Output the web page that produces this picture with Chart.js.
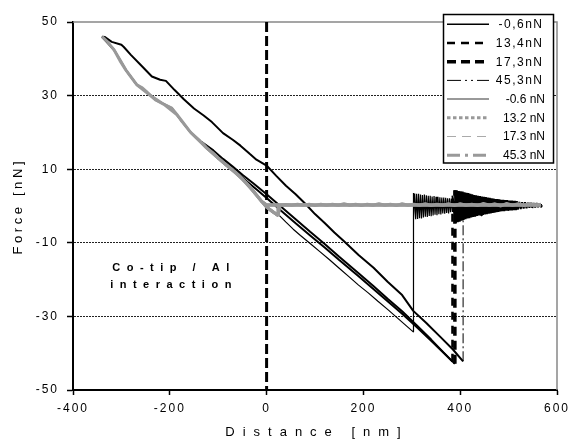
<!DOCTYPE html>
<html><head><meta charset="utf-8">
<script src="https://cdn.jsdelivr.net/npm/chart.js@4"></script>
<style>html,body{margin:0;padding:0;background:#fff}#wrap{width:572px;height:441px;position:relative}</style>
</head><body><div id="wrap"><canvas id="c" width="572" height="441"></canvas></div>
<script>
// ---------- texts / ticks ----------
const xTickValues = [-400, -200, 0, 200, 400, 600];
const yTickValues = [-50, -30, -10, 10, 30, 50];
const seriesNames = ['-0,6nN', '13,4nN', '17,3nN', '45,3nN', '-0.6 nN', '13.2 nN', '17.3 nN', '45.3 nN'];
const xTitle = 'Distance [nm]';
const yTitle = 'Force [nN]';
const noteLines = ['Co-tip / Al', 'interaction'];

// ---------- data: [distance nm, force nN] ----------
const blk06 = [[569,0.3],[450,0.3],[300,0.3],[150,0.3],[30,0.3],[25,-2.4],[40,-4.4],[55,-6.3],[70,-8.0],[90,-10.2],[110,-12.4],[130,-14.6],[150,-16.9],[170,-19.2],[190,-21.5],[210,-23.6],[230,-25.9],[250,-28.1],[270,-30.4],[290,-32.7],[303,-34.2],[303,3.5],
 [304,-3.8],[306,3.4],[308,-3.6],[310,3.3],[312,-3.5],[314,3.3],[316,-3.3],[318,3.1],[320,-3.4],[322,3.0],[324,-3.1],[326,3.1],[328,-2.9],[330,2.9],[332,-3.0],[334,2.8],[336,-2.7],[338,2.8],[340,-2.8],[342,2.6],[344,-2.6],[346,2.7],[348,-2.4],[350,2.5],[352,-2.5],[354,2.5],[356,-2.2],[358,2.4],[360,-2.3],[362,2.3],[364,-2.0],[366,2.3],[368,-2.1],[370,2.2],[372,-1.9],[374,2.1],[376,-2.0],[378,2.1],[380,-1.7],[382,2.0],[384,-1.6],[386,2.0],
 [389,-1.0],[392,1.2],[395,-0.9],[398,1.1],[401,-0.8],[404,1.0],[407,-0.8],[410,0.9],[414,-0.7],[418,0.9],[422,-0.6],[426,0.8],[430,-0.6],[434,0.8],[438,-0.5],[442,0.7],[446,-0.5],[450,0.7],[455,-0.4],[460,0.6],[465,-0.3],[470,0.6],[476,-0.2],[482,0.6],[490,-0.1],[500,0.5],[512,0.0],[525,0.5],[540,0.1],[555,0.5],[569,0.3]];

const blk134 = [[569,0.3],[300,0.3],[30,0.3],[0,0.3],[-10,1.2],[-21,3.0],[-35,5.3],[-52,7.6],[-65,9.2],[-82,11.0],[-100,13.4],
 [-80,11.1],[-60,8.9],[-40,6.6],[-20,4.4],[0,2.2],[30,-1.3],[60,-4.7],[90,-8.0],[120,-11.3],[150,-14.7],[190,-19.1],[220,-22.5],[250,-25.9],[280,-29.3],[310,-32.9],[340,-36.6],[365,-39.8],[384,-42.3],[384,2.8],
 [388,-2.5],[392,2.4],[397,-2.0],[402,1.8],[410,-1.4],[420,1.2],[432,-1.0],[446,0.9],[460,-0.6],[480,0.6],[500,0.2],[569,0.3]];

const blk173 = [[569,0.3],[300,0.3],[30,0.3],[0,0.3],[-10,1.2],[-21,3.0],[-35,5.3],[-52,7.6],[-65,9.2],[-82,11.0],[-100,13.0],[-112,14.5],[-124,15.8],[-134,17.4],
 [-110,15.1],[-90,12.8],[-70,10.7],[-50,8.5],[-27,6.1],[0,3.2],[30,-0.2],[60,-3.6],[90,-7.0],[120,-10.3],[150,-13.8],[190,-18.3],[220,-21.7],[250,-25.2],[280,-28.6],[310,-32.4],[340,-36.3],[365,-39.7],[389,-42.9],[389,4.3],
 [391,-4.6],[393,4.3],[395,-4.4],[397,4.1],[399,-4.3],[401,4.0],[403,-4.0],[405,3.9],[407,-3.8],[409,3.7],[411,-3.6],[413,3.6],[415,-3.4],[417,3.5],[419,-3.3],[421,3.3],[423,-3.1],[425,3.2],[427,-3.0],[429,3.0],[431,-2.9],[433,2.9],[435,-2.7],[437,2.8],[439,-2.6],[441,2.7],[443,-2.5],[445,2.6],[447,-2.4],[449,2.5],[451,-2.3],[453,2.4],[455,-2.2],[457,2.3],[459,-2.1],[461,2.2],[463,-2.0],[465,2.1],[467,-1.9],[469,2.0],[471,-1.8],[473,1.9],[475,-1.7],[477,1.9],[479,-1.6],
 [481,1.8],[483,-1.5],[485,1.7],[487,-1.4],[489,1.7],[491,-1.4],[493,1.6],[495,-1.3],[497,1.6],[499,-1.3],[501,1.5],[503,-1.2],[505,1.5],[507,-1.2],[509,1.4],[511,-1.1],[513,1.4],[515,-1.1],[517,1.3],[519,-1.0],
 [522,1.1],[525,-0.8],[528,1.0],[531,-0.7],[534,1.0],[537,-0.6],[540,0.9],[543,-0.5],[546,0.9],[549,-0.5],[552,0.8],[555,-0.4],[558,0.8],[561,-0.3],[564,0.7],[567,-0.2],[568,0.3]];

const blk453 = [[569,0.3],[300,0.3],[30,0.3],[0,0.3],[-10,1.2],[-21,3.0],[-35,5.3],[-52,7.6],[-65,9.2],[-82,11.0],[-100,13.0],[-124,15.8],[-140,18.0],[-157,20.0],[-175,23.0],[-196,26.6],[-229,28.8],[-250,31.3],[-268,32.9],[-291,37.0],[-315,42.4],[-340,46.0],
 [-334,45.9],[-320,44.6],[-300,43.8],[-295,43.2],[-280,41.0],[-260,38.3],[-237,35.2],[-220,34.3],[-208,34.0],[-190,31.5],[-171,29.0],[-150,26.5],[-130,24.6],[-113,22.8],[-90,19.8],[-70,18.0],[-54,16.4],[-35,14.2],[-21,12.6],[0,11.0],[20,8.2],[40,5.5],[60,3.2],[80,0.6],[100,-2.2],[120,-4.6],[140,-7.2],[160,-9.6],[190,-13.3],[221,-16.8],[250,-20.6],[280,-24.2],[303,-28.5],[330,-31.8],[360,-35.7],[385,-39.0],[406,-42.2],[406,1.5],
 [409,-1.2],[414,1.1],[420,-0.9],[428,0.8],[440,-0.6],[455,0.5],[569,0.3]];

const gry06 = [[567,0.5],[555,0.2],[545,0.7],[532,0.1],[520,0.6],[508,0.2],[496,0.7],[484,0.0],[472,0.6],[460,0.2],[448,0.7],[436,0.1],[424,0.5],[412,0.2],[400,0.6],[388,0.1],[376,0.6],[364,0.2],[352,0.5],[340,0.1],[328,0.6],[316,0.2],[304,0.5],[292,0.2],[280,0.6],[268,0.1],[256,0.5],[244,0.2],[232,0.6],[220,0.2],[208,0.5],[196,0.1],[184,0.5],[172,0.2],[160,0.6],[148,0.2],[136,0.5],[124,0.2],[112,0.5],[100,0.1],[88,0.5],[76,0.2],[64,0.5],[52,0.2],[40,0.4],[28,0.3],[24,-2.6],[12,-1.5],[0,-0.3]];

const gry132 = [[567,0.3],[400,0.3],[200,0.3],[0,0.3],[-10,1.2],[-21,3.0],[-35,5.3],[-52,7.6],[-65,9.2],[-82,11.0],[-100,13.0],[-82,11.0],[-65,9.2],[-52,7.6],[-35,5.3],[-21,3.0],[-10,1.2],[0,-0.3],[12,-1.5],[24,-2.6],[24,0.3]];

const gry173 = [[567,0.3],[400,0.3],[200,0.3],[0,0.3],[-10,1.2],[-21,3.0],[-35,5.3],[-52,7.6],[-65,9.2],[-82,11.0],[-100,13.0],[-112,14.5],[-124,15.8],[-134,17.2],[-124,15.8],[-100,13.0],[-82,11.0],[-52,7.6],[-21,3.0],[0,-0.3],[24,-2.6],[24,0.3]];

const gry453 = [[567,0.3],[400,0.3],[200,0.3],[0,0.3],[-10,1.2],[-21,3.0],[-35,5.3],[-52,7.6],[-65,9.2],[-82,11.0],[-100,13.0],[-112,14.5],[-124,15.8],[-140,18.0],[-157,20.0],[-166,21.5],[-175,23.0],[-185,24.8],[-196,26.6],[-212,27.6],[-229,28.8],[-240,30.0],[-250,31.3],[-258,32.2],[-268,32.9],[-280,35.0],[-291,37.0],[-303,39.5],[-315,42.4],[-330,44.8],[-340,46.0],
 [-330,44.8],[-315,42.4],[-291,37.0],[-268,32.9],[-240,30.0],[-212,27.6],[-185,24.8],[-157,20.0],[-124,15.8],[-100,13.0],[-65,9.2],[-35,5.3],[-10,1.2],[0,-0.3],[12,-1.5],[24,-2.6],[24,0.3]];

const contactLine = [[0,50],[0,-50]];

// ---------- chart ----------
const toXY = arr => arr.map(p => ({x: p[0], y: p[1]}));
const isSnap = c => Math.abs(c.p1.parsed.y - c.p0.parsed.y) > 10;
function mk(label, data, o) {
  const d = {
    label, data: toXY(data), showLine: true, pointRadius: 0, pointHoverRadius: 0, fill: false, tension: 0,
    borderColor: o.color, backgroundColor: o.color, borderWidth: o.w, borderDash: [], order: o.order,
    legendDash: o.ldash, legendWidth: o.lw, legendColor: o.lcolor || o.color, inLegend: o.inLegend !== false,
    borderJoinStyle: 'bevel', borderCapStyle: 'butt'
  };
  if (o.snapDash) {
    d.segment = {
      borderDash: c => isSnap(c) ? o.snapDash : undefined,
      borderWidth: c => isSnap(c) ? o.snapW : undefined
    };
  }
  if (o.dash) d.borderDash = o.dash;
  return d;
}
const BLK = '#000000', GRY = '#999999';
const datasets = [
  mk(seriesNames[0], blk06, {color: BLK, w: 1.2, order: 2, ldash: [], lw: 1.5}),
  mk(seriesNames[1], blk134, {color: BLK, w: 2, order: 2, ldash: [8, 6], lw: 2.5, snapDash: [8, 6], snapW: 2.5}),
  mk(seriesNames[2], blk173, {color: BLK, w: 2, order: 2, ldash: [9, 5], lw: 3.5, snapDash: [9, 5], snapW: 3.5}),
  mk(seriesNames[3], blk453, {color: BLK, w: 2, order: 2, ldash: [14, 4, 2, 4, 2, 4], lw: 1, snapDash: [10, 3, 2, 3], snapW: 1}),
  mk(seriesNames[4], gry06, {color: GRY, w: 3, order: 0, ldash: [], lw: 2}),
  mk(seriesNames[5], gry132, {color: GRY, w: 3, order: 0, ldash: [3.5, 2.5], lw: 3}),
  mk(seriesNames[6], gry173, {color: GRY, w: 3, order: 0, ldash: [9, 6], lw: 1, lcolor: '#aaaaaa'}),
  mk(seriesNames[7], gry453, {color: GRY, w: 3, order: 0, ldash: [13, 5, 3, 5], lw: 3}),
  mk('contact', contactLine, {color: BLK, w: 3, order: 1, dash: [10, 4], inLegend: false})
];

const FONT = 'Liberation Sans, Arial, Helvetica, sans-serif';

const decor = {
  id: 'decor',
  beforeDraw(chart) { chart.ctx.letterSpacing = '2px'; },
  beforeDatasetsDraw(chart) {
    const ctx = chart.ctx, a = chart.chartArea;
    ctx.letterSpacing = '0px';
    ctx.save();
    ctx.strokeStyle = '#888888';
    ctx.lineWidth = 1.5;
    ctx.beginPath();
    ctx.moveTo(a.left, a.top); ctx.lineTo(a.right, a.top); ctx.lineTo(a.right, a.bottom);
    ctx.stroke();
    ctx.restore();
  },
  afterDraw(chart) {
    const ctx = chart.ctx;
    ctx.save();
    ctx.fillStyle = '#000';
    ctx.textBaseline = 'middle';
    ctx.textAlign = 'center';
    // x title
    ctx.font = '13px ' + FONT;
    ctx.letterSpacing = '8px';
    ctx.fillText(xTitle, 313 + 4, 432);
    // y title
    ctx.save();
    ctx.translate(18, 208);
    ctx.rotate(-Math.PI / 2);
    ctx.letterSpacing = '3.6px';
    ctx.fillText(yTitle, 1.8, 0);
    ctx.restore();
    // annotation
    ctx.font = 'bold 11px ' + FONT;
    ctx.letterSpacing = '6.5px';
    ctx.fillText(noteLines[0], 171 + 3, 268);
    ctx.fillText(noteLines[1], 171 + 3, 285);
    ctx.restore();

    // legend
    ctx.save();
    const bx = 443.5, by = 14.5, bw = 110, bh = 148.5;
    ctx.fillStyle = '#fff';
    ctx.fillRect(bx, by, bw, bh);
    ctx.strokeStyle = '#000';
    ctx.lineWidth = 1.5;
    ctx.strokeRect(bx, by, bw, bh);
    const items = chart.data.datasets.filter(d => d.inLegend);
    items.forEach((d, i) => {
      const y = 24.3 + i * 18.7;
      ctx.beginPath();
      ctx.strokeStyle = d.legendColor;
      ctx.lineWidth = d.legendWidth;
      ctx.setLineDash(d.legendDash);
      ctx.moveTo(447, y); ctx.lineTo(489, y);
      ctx.stroke();
      ctx.setLineDash([]);
      ctx.fillStyle = '#000';
      ctx.font = '12px ' + FONT;
      ctx.textBaseline = 'middle';
      ctx.textAlign = 'right';
      if (i < 4) { ctx.letterSpacing = '1.5px'; ctx.fillText(d.label, 543.5, y + 0.5); }
      else { ctx.letterSpacing = '0px'; ctx.fillText(d.label, 545, y + 0.5); }
    });
    ctx.restore();
  }
};

new Chart(document.getElementById('c'), {
  type: 'scatter',
  data: {datasets},
  options: {
    responsive: false, animation: false, events: [],
    layout: {padding: {left: 0, right: 15, top: 22, bottom: 0}},
    plugins: {legend: {display: false}, tooltip: {enabled: false}, title: {display: false}},
    scales: {
      x: {
        type: 'linear', min: xTickValues[0], max: xTickValues[xTickValues.length - 1],
        afterBuildTicks: s => { s.ticks = xTickValues.map(v => ({value: v})); },
        afterFit: s => { s.height = 51; s.paddingLeft = 0; s.paddingRight = 0; },
        grid: {drawOnChartArea: false, drawTicks: true, tickLength: 5, tickColor: '#000', tickWidth: 1.5},
        border: {display: true, color: '#000', width: 2},
        ticks: {color: '#000', font: {family: FONT, size: 12}, padding: 6, maxRotation: 0, autoSkip: false}
      },
      y: {
        type: 'linear', min: yTickValues[0], max: yTickValues[yTickValues.length - 1],
        afterBuildTicks: s => { s.ticks = yTickValues.map(v => ({value: v})); },
        afterFit: s => { s.width = 73; },
        grid: {
          drawOnChartArea: true, drawTicks: true, tickLength: 6, lineWidth: 1, tickWidth: 1.5, tickColor: '#000',
          color: c => (c.tick && (c.tick.value === 50 || c.tick.value === -50)) ? 'rgba(0,0,0,0)' : '#222222'
        },
        border: {display: true, color: '#000', width: 2, dash: [2, 1]},
        ticks: {color: '#000', font: {family: FONT, size: 12}, padding: 8, autoSkip: false}
      }
    }
  },
  plugins: [decor]
});
</script>
</body></html>
